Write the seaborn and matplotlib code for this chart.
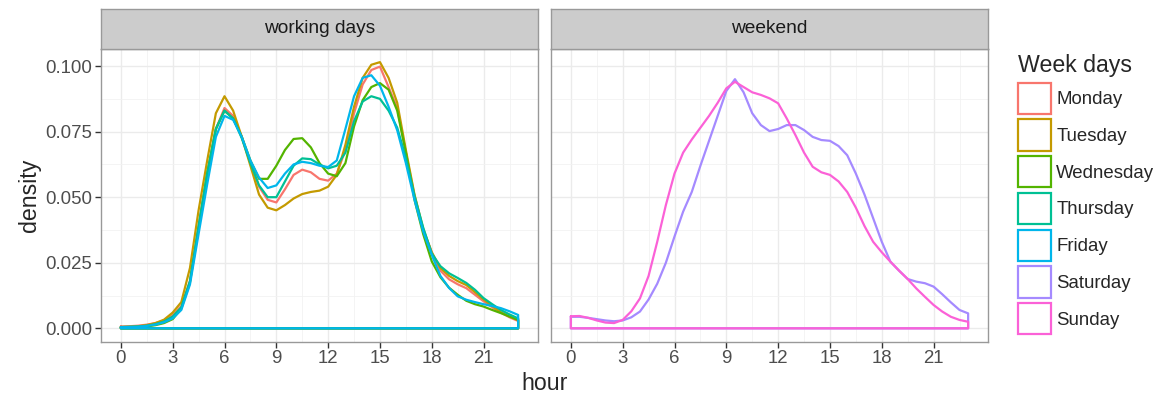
import numpy as np
import pandas as pd
import seaborn as sns
import matplotlib.pyplot as plt
from matplotlib.patches import Patch

# hour grid (half-hour steps, 0 .. 23)
hours = np.arange(0, 23.5, 0.5)

# density, one value per half hour
monday = [.0007, .0008, .0010, .0014, .0020, .0030, .0050, .0085, .0180, .0390,
          .0590, .0760, .0840, .0810, .0730, .0630, .0540, .0490, .0480, .0530,
          .0585, .0605, .0595, .0570, .0563, .0590, .0680, .0820, .0930, .0985,
          .0998, .0920, .0840, .0670, .0505, .0375, .0290, .0220, .0187, .0168,
          .0153, .0128, .0103, .0080, .0060, .0042, .0028]
tuesday = [.0005, .0006, .0008, .0012, .0020, .0033, .0060, .0100, .0230, .0450,
           .0640, .0820, .0885, .0830, .0730, .0620, .0510, .0460, .0450, .0470,
           .0495, .0512, .0520, .0525, .0540, .0585, .0700, .0845, .0955, .1005,
           .1015, .0955, .0860, .0680, .0510, .0380, .0290, .0230, .0200, .0180,
           .0165, .0138, .0110, .0085, .0062, .0045, .0032]
wednesday = [.0004, .0004, .0005, .0007, .0012, .0020, .0035, .0075, .0175, .0380,
             .0590, .0760, .0830, .0800, .0730, .0640, .0570, .0570, .0620, .0680,
             .0722, .0725, .0690, .0630, .0590, .0580, .0630, .0770, .0870, .0920,
             .0935, .0910, .0830, .0670, .0490, .0360, .0255, .0195, .0155, .0128,
             .0105, .0092, .0083, .0070, .0058, .0045, .0032]
thursday = [.0005, .0006, .0007, .0010, .0016, .0026, .0045, .0080, .0180, .0390,
            .0590, .0760, .0830, .0800, .0725, .0630, .0545, .0500, .0500, .0560,
            .0620, .0648, .0645, .0625, .0610, .0620, .0670, .0790, .0865, .0885,
            .0875, .0830, .0765, .0650, .0505, .0385, .0285, .0237, .0210, .0192,
            .0173, .0147, .0115, .0092, .0070, .0053, .0038]
friday = [.0004, .0005, .0006, .0009, .0014, .0023, .0038, .0070, .0167, .0360,
          .0550, .0730, .0810, .0795, .0730, .0640, .0575, .0535, .0545, .0590,
          .0625, .0635, .0630, .0620, .0615, .0640, .0760, .0885, .0955, .0965,
          .0925, .0845, .0755, .0630, .0490, .0370, .0280, .0200, .0154, .0122,
          .0109, .0100, .0092, .0085, .0077, .0065, .0051]
saturday = [.0044, .0044, .0040, .0035, .0030, .0027, .0030, .0042, .0064, .0110,
            .0170, .0250, .0350, .0445, .0520, .0620, .0715, .0810, .0905, .0950,
            .0900, .0820, .0775, .0752, .0760, .0775, .0775, .0756, .0730, .0718,
            .0715, .0695, .0660, .0590, .0510, .0420, .0330, .0254, .0220, .0188,
            .0178, .0172, .0159, .0130, .0099, .0070, .0057]
sunday = [.0046, .0047, .0040, .0030, .0022, .0020, .0032, .0065, .0114, .0200,
          .0330, .0470, .0590, .0670, .0720, .0765, .0810, .0860, .0915, .0940,
          .0920, .0900, .0890, .0877, .0858, .0800, .0737, .0670, .0616, .0595,
          .0585, .0560, .0520, .0460, .0390, .0330, .0290, .0254, .0220, .0188,
          .0152, .0120, .0089, .0064, .0044, .0032, .0025]

days = ["Monday", "Tuesday", "Wednesday", "Thursday", "Friday", "Saturday", "Sunday"]
curves = [monday, tuesday, wednesday, thursday, friday, saturday, sunday]
day_type = ["working days"] * 5 + ["weekend"] * 2
colors = ["#F8766D", "#C49A00", "#53B400", "#00C094", "#00B6EB", "#A58AFF", "#FB61D7"]

# build long table; each curve closed down to the baseline like geom_density
frames = []
for day, vals, grp in zip(days, curves, day_type):
    xs = list(hours) + [hours[-1], hours[0], hours[0]]
    ys = list(vals) + [0.0, 0.0, vals[0]]
    frames.append(pd.DataFrame({"hour": xs, "density": ys, "day": day, "type": grp}))
df = pd.concat(frames, ignore_index=True)

sns.set_style("white")
plt.rcParams["font.family"] = ["Liberation Sans", "DejaVu Sans"]

W, H = 1169, 401
fig = plt.figure(figsize=(W / 100, H / 100), dpi=100)


def px_box(x0, y0, x1, y1):
    return [x0 / W, 1 - y1 / H, (x1 - x0) / W, (y1 - y0) / H]


panels = [("working days", 101, 538), ("weekend", 551, 988)]
palette = dict(zip(days, colors))

for i, (name, x0, x1) in enumerate(panels):
    ax = fig.add_axes(px_box(x0, 48.5, x1, 341.7))
    sub = df[df["type"] == name]
    sns.lineplot(data=sub, x="hour", y="density", hue="day", palette=palette,
                 sort=False, estimator=None, linewidth=1.6, legend=False, ax=ax)
    ax.set_xlim(-1.15, 24.15)
    ax.set_ylim(-0.0051, 0.1067)
    ax.set_xticks(range(0, 22, 3))
    ax.set_xticks(np.arange(1.5, 24, 3), minor=True)
    ax.set_yticks([0, 0.025, 0.05, 0.075, 0.1])
    ax.set_yticks([0.0125, 0.0375, 0.0625, 0.0875], minor=True)
    ax.grid(which="major", color="#EBEBEB", linewidth=1.0)
    ax.grid(which="minor", color="#F2F2F2", linewidth=0.6)
    ax.set_axisbelow(True)
    ax.set_xlabel("")
    ax.set_ylabel("")
    ax.tick_params(which="major", length=4.3, width=1, color="#333333",
                   labelsize=13.4, labelcolor="#4D4D4D", pad=2)
    ax.tick_params(which="minor", length=0)
    ax.tick_params(axis="x", bottom=True)
    if i == 0:
        ax.set_yticklabels(["0.000", "0.025", "0.050", "0.075", "0.100"])
        ax.tick_params(axis="y", left=True)
    else:
        ax.set_yticklabels([])
        ax.tick_params(axis="y", left=False)
    for s in ax.spines.values():
        s.set_color("#999999")
        s.set_linewidth(1.0)

    # facet strip
    st = fig.add_axes(px_box(x0, 8.5, x1, 48.5))
    st.set_facecolor("#CCCCCC")
    st.set_xticks([])
    st.set_yticks([])
    for s in st.spines.values():
        s.set_color("#999999")
        s.set_linewidth(1.0)
    st.text(0.5, 0.5, name, ha="center", va="center", fontsize=13.8,
            color="#1A1A1A", transform=st.transAxes)

fig.text(544.5 / W, 1 - 383 / H, "hour", ha="center", va="center", fontsize=16.7)
fig.text(30 / W, 1 - 195 / H, "density", ha="center", va="center",
         rotation=90, fontsize=16.7)

handles = [Patch(facecolor="white", edgecolor=c, linewidth=1.6) for c in colors]
fig.legend(handles, days, loc="upper left", bbox_to_anchor=(1012.5 / W, 1 - 48.5 / H),
           title="Week days", title_fontsize=16.7, fontsize=13.4, frameon=False,
           handlelength=1.75, handleheight=2.2, labelspacing=0.3,
           handletextpad=0.3, borderpad=0.3, borderaxespad=0, alignment="left")

fig.savefig("out.png", dpi=100)
